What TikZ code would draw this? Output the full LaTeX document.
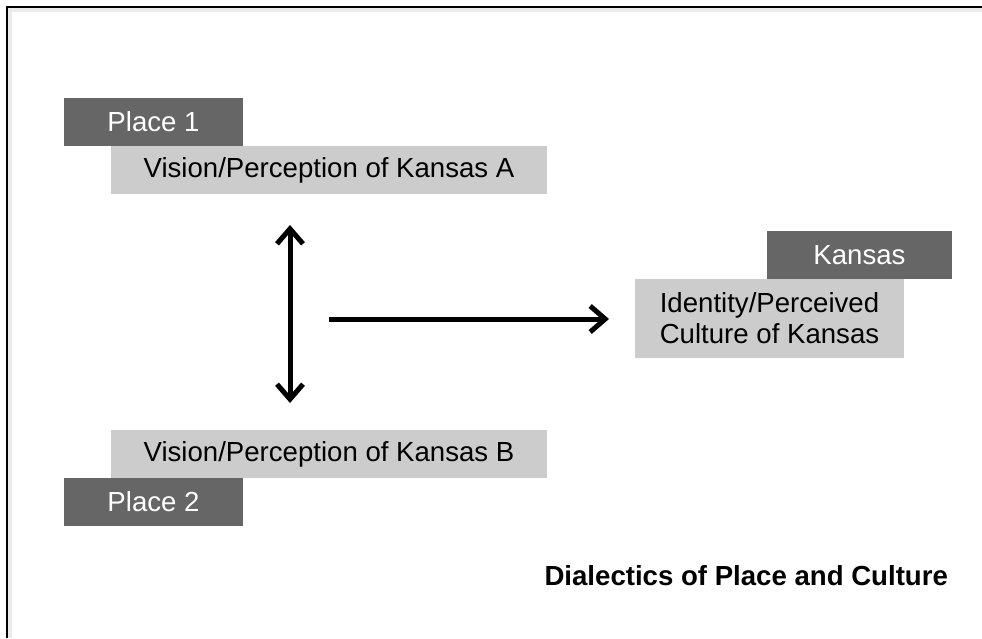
\documentclass[tikz,border=0pt]{standalone}
\usepackage{fontspec}
\setmainfont{Liberation Sans}
\usepackage{tikz}
\usetikzlibrary{arrows.meta,positioning}

\begin{document}
\begin{tikzpicture}[x=1pt, y=-1pt,
    placebox/.style={draw=none, rectangle, fill=black!60, text=white, inner sep=0pt, minimum width=179pt, minimum height=48pt, font=\fontsize{27.6}{31}\selectfont},
    visionbox/.style={draw=none, rectangle, fill=black!20, text=black, inner sep=0pt, minimum height=48pt, font=\fontsize{27.6}{31}\selectfont, align=center},
    flowarrow/.style={line width=5pt, black, arrows={-Straight Barb[length=15pt, width=26pt]}}]
\useasboundingbox (0,0) rectangle (982,638);
% frame
\draw[black!8, line width=4pt] (10,638) -- (10,10) -- (982,10);
\draw[black, line width=2pt] (7,638) -- (7,7) -- (982,7);
%============
\node[placebox] (P1) at (153.5,122) {Place 1};
\node[visionbox, minimum width=436pt] (VA) at (329,170) {Vision/Perception of Kansas A};
\node[visionbox, minimum width=436pt] (VB) at (329,454) {Vision/Perception of Kansas B};
\node[placebox] (P2) at (153.5,502) {Place 2};
%============
\node[placebox, minimum width=185pt] (K) at (859.5,255) {Kansas};
\node[visionbox, minimum width=269pt, minimum height=79pt] (ID) at (769.5,318.5) {Identity/Perceived\\Culture of Kansas};
\node[anchor=base west, font=\fontsize{27.6}{31}\selectfont\bfseries] (T) at (541,585) {Dialectics of Place and Culture};
%==========
\coordinate (VT) at (290,225);
\coordinate (VD) at (290,403);
\coordinate (HL) at (329,319);
\coordinate (HR) at (609,319);

\draw[flowarrow, arrows={Straight Barb[length=15pt, width=26pt]-Straight Barb[length=15pt, width=26pt]}] (VT) -- (VD);
\draw[flowarrow] (HL) -- (HR);
\end{tikzpicture}
\end{document}
